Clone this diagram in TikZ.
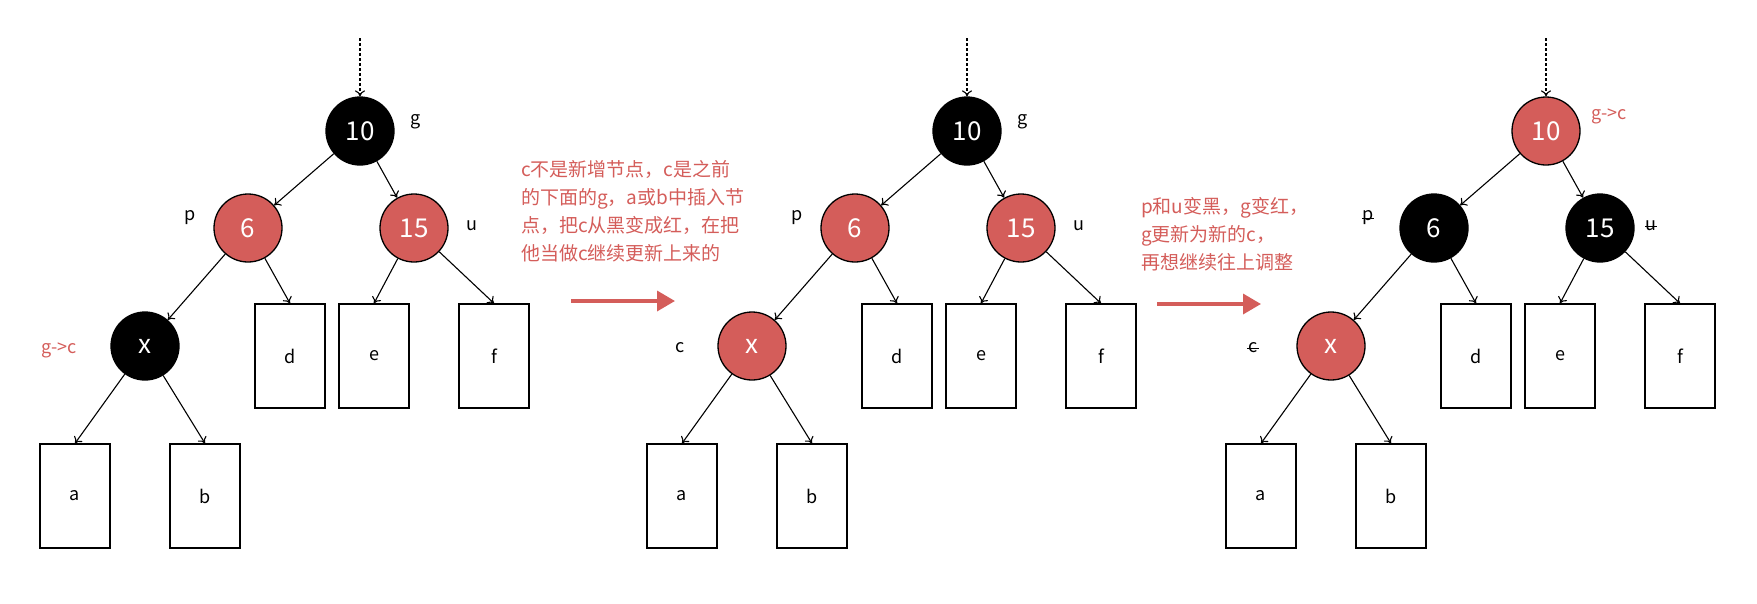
\documentclass[tikz,border=0pt]{standalone}
\usepackage{fontspec}
\setmainfont{Noto Sans CJK SC}
\usetikzlibrary{arrows.meta}
\definecolor{rbred}{RGB}{212,93,90}
\tikzset{
  rbnode/.style={circle,draw=black,line width=1.3pt,minimum size=68pt,inner sep=0pt,text=white,font=\fontsize{26}{26}\selectfont},
  blk/.style={rbnode,fill=black},
  red/.style={rbnode,fill=rbred},
  leaf/.style={draw=black,line width=1.3pt,minimum width=70pt,minimum height=104pt,inner sep=0pt,font=\fontsize{18}{18}\selectfont},
  edge/.style={-{To[length=6pt,width=10pt]},line width=1.1pt},
  lbl/.style={font=\fontsize{18}{18}\selectfont},
  rlbl/.style={font=\fontsize{18}{18}\selectfont,text=rbred},
  note/.style={font=\fontsize{19}{28}\selectfont,text=rbred,align=left,anchor=north west,inner sep=0pt},
  bigarrow/.style={draw=rbred,line width=3.5pt,-{Triangle[length=18pt,width=20pt]}}
}
\newcommand\rbtree[6]{%
  \begin{scope}[shift={(#2,0)}]
    \coordinate (#1top) at (360,38);
    \node[#3] (#1g) at (360,131) {10};
    \node[#4] (#1p) at (248,228) {6};
    \node[#5] (#1u) at (414,228) {15};
    \node[#6] (#1x) at (145,346) {x};
    \node[leaf] (#1d) at (290,356) {d};
    \node[leaf] (#1e) at (374,356) {e};
    \node[leaf] (#1f) at (494,356) {f};
    \node[leaf] (#1a) at (75,496) {a};
    \node[leaf] (#1b) at (205,496) {b};
    \draw[edge,dashed,dash pattern=on 2.5pt off 2.5pt] (#1top) -- (#1g);
    \draw[edge] (#1g) -- (#1p);
    \draw[edge] (#1g) -- (#1u);
    \draw[edge] (#1p) -- (#1x);
    \draw[edge] (#1p) -- (#1d.north);
    \draw[edge] (#1u) -- (#1e.north);
    \draw[edge] (#1u) -- (#1f.north);
    \draw[edge] (#1x) -- (#1a.north);
    \draw[edge] (#1x) -- (#1b.north);
  \end{scope}}
\begin{document}
\begin{tikzpicture}[x=1pt,y=-1pt]
\useasboundingbox (0,0) rectangle (1757,603);
\rbtree{A}{0}{blk}{red}{red}{blk}
\rbtree{B}{607}{blk}{red}{red}{red}
\rbtree{C}{1186}{red}{blk}{blk}{red}
% labels tree 1
\node[lbl] (Alg) at (416,122) {g};
\node[lbl] (Alp) at (190,218) {p};
\node[lbl] (Alu) at (472,226) {u};
\node[rlbl] (Alc) at (59,350) {g->c};
% labels tree 2
\node[lbl] (Blg) at (1023,122) {g};
\node[lbl] (Blp) at (797,218) {p};
\node[lbl] (Blu) at (1079,226) {u};
\node[lbl] (Blc) at (680,348) {c};
% labels tree 3
\node[rlbl] (Clg) at (1609,116) {g->c};
\node[lbl] (Clp) at (1368,218) {p};
\node[lbl] (Clu) at (1651,226) {u};
\node[lbl] (Clc) at (1253,348) {c};
\foreach \n in {Clp,Clu,Clc} \draw[line width=0.9pt] ([xshift=-6pt]\n.center) -- ([xshift=6pt]\n.center);
% notes
\node[note] (N1) at (521,160) {c不是新增节点，c是之前\\的下面的g，a或b中插入节\\点，把c从黑变成红，在把\\他当做c继续更新上来的};
\node[note] (N2) at (1141,197) {p和u变黑，g变红，\\g更新为新的c，\\再想继续往上调整};
\coordinate (A1s) at (571,301); \coordinate (A1e) at (675,301);
\coordinate (A2s) at (1157,304); \coordinate (A2e) at (1261,304);
\draw[bigarrow] (A1s) -- (A1e);
\draw[bigarrow] (A2s) -- (A2e);
\end{tikzpicture}
\end{document}
